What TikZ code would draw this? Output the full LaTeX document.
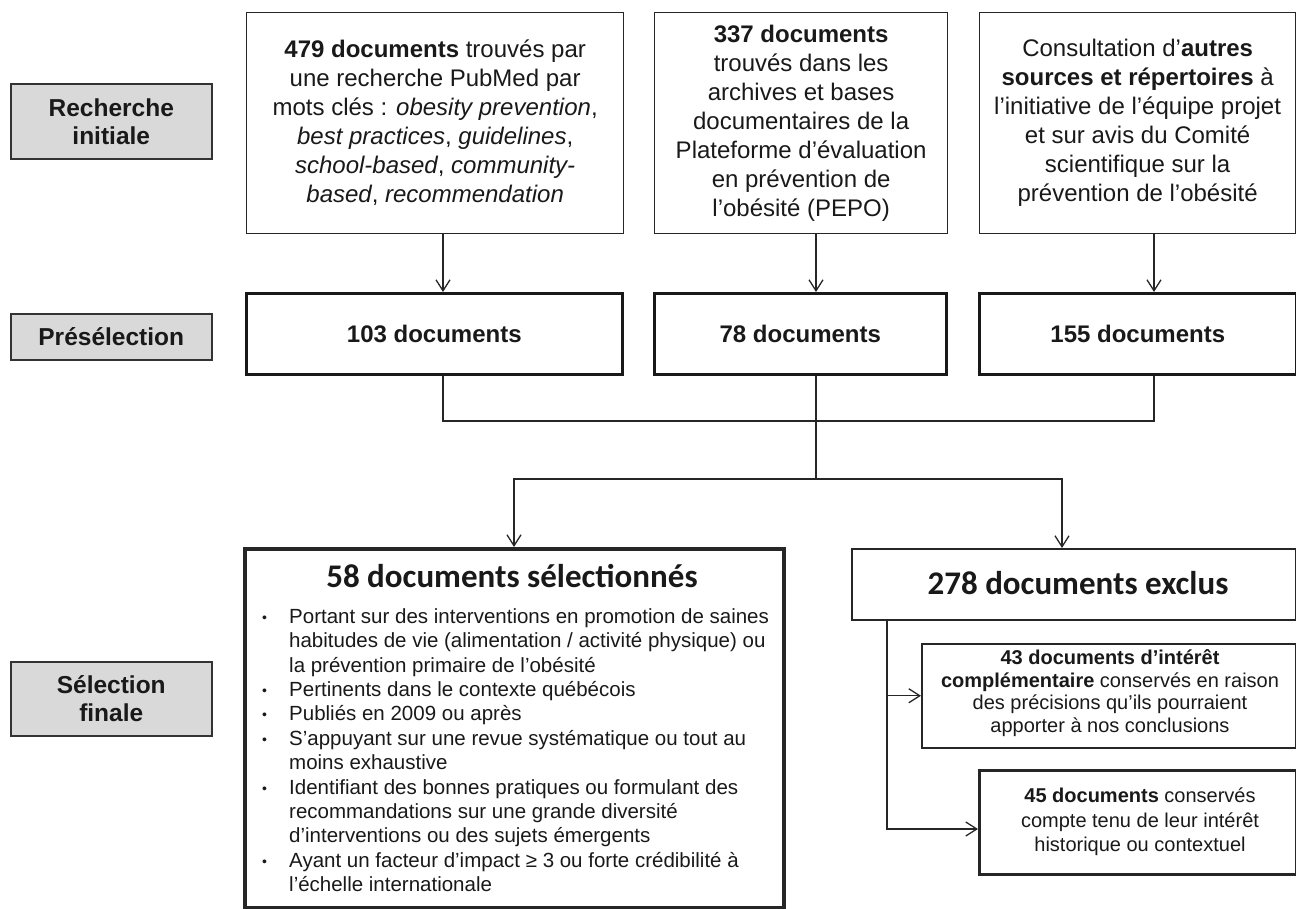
\documentclass[tikz,border=0pt]{standalone}
\usepackage{fontspec}
\setmainfont{Liberation Sans}
\newfontfamily\calfont{Carlito}
\usetikzlibrary{arrows.meta,calc}
\newcommand\smbul{\raisebox{1pt}{\fontsize{14}{14}\selectfont\textbullet}}
\begin{document}
\begin{tikzpicture}[x=1pt,y=-1pt,
  every node/.style={text=black!90},
  lbl/.style={draw=black!80,line width=1.5pt,fill=gray!30,anchor=north west,inner sep=0pt,align=center,font=\fontsize{24.5}{28}\selectfont\bfseries},
  topbox/.style={draw=black!85,line width=1.3pt,anchor=north west,inner sep=0pt,align=center,font=\fontsize{24}{29}\selectfont},
  prebox/.style={draw=black!90,line width=2.6pt,anchor=north west,inner sep=0pt,font=\fontsize{24}{29}\selectfont\bfseries},
  plainbox/.style={draw=black!85,anchor=north west,inner sep=0pt},
  bigtitle/.style={inner sep=0pt,font=\fontsize{33}{38}\selectfont\calfont\bfseries},
  smalltext/.style={inner sep=0pt,align=center},
  conn/.style={draw=black!85,line width=1.3pt},
  arr/.style={conn,-{Straight Barb[length=11pt,width=14pt,line width=1.3pt]}}
]
\useasboundingbox (0,0) rectangle (1296,908);

% stage labels
\node[lbl,minimum width=201pt,minimum height=75pt] (L1) at (10,83) {Recherche\\initiale};
\node[lbl,minimum width=201pt,minimum height=46pt] (L2) at (10,313) {Présélection};
\node[lbl,minimum width=201pt,minimum height=74pt] (L3) at (10,661) {Sélection\\finale};

% top boxes
\node[topbox,minimum width=377pt,minimum height=221pt] (T1) at (246,12)
  {\textbf{479 documents} trouvés par\\une recherche PubMed par\\mots clés : \textit{obesity prevention},\\\textit{best practices}, \textit{guidelines},\\\textit{school-based}, \textit{community-}\\\textit{based}, \textit{recommendation}};
\node[topbox,minimum width=293pt,minimum height=221pt] (T2) at (654,12)
  {\textbf{337 documents}\\trouvés dans les\\archives et bases\\documentaires de la\\Plateforme d’évaluation\\en prévention de\\l’obésité (PEPO)};
\node[topbox,minimum width=316pt,minimum height=221pt] (T3) at (979,12)
  {Consultation d’\textbf{autres}\\\textbf{sources et répertoires} à\\l’initiative de l’équipe projet\\et sur avis du Comité\\scientifique sur la\\prévention de l’obésité};

% preselection boxes
\node[prebox,minimum width=376pt,minimum height=81pt] (P1) at (245,292) {103 documents};
\node[prebox,minimum width=292pt,minimum height=81pt] (P2) at (653,292) {78 documents};
\node[prebox,minimum width=317pt,minimum height=81pt] (P3) at (978,292) {155 documents};

% final selection box
\node[plainbox,line width=4pt,minimum width=539pt,minimum height=359pt] (S) at (243,547) {};
\node[bigtitle] (Stitle) at (512,576) {58 documents sélectionnés};
\node[inner sep=0pt,anchor=north west,font=\fontsize{20.5}{24.4}\selectfont] (Slist) at (262,606)
{\begin{tabular}{@{}p{27pt}@{}l@{}}
\smbul & Portant sur des interventions en promotion de saines\\
 & habitudes de vie (alimentation / activité physique) ou\\
 & la prévention primaire de l’obésité\\
\smbul & Pertinents dans le contexte québécois\\
\smbul & Publiés en 2009 ou après\\
\smbul & S’appuyant sur une revue systématique ou tout au\\
 & moins exhaustive\\
\smbul & Identifiant des bonnes pratiques ou formulant des\\
 & recommandations sur une grande diversité\\
 & d’interventions ou des sujets émergents\\
\smbul & Ayant un facteur d’impact ≥ 3 ou forte crédibilité à\\
 & l’échelle internationale
\end{tabular}};

% excluded boxes
\node[plainbox,line width=1.5pt,minimum width=444pt,minimum height=71pt] (E) at (851,548) {};
\node[bigtitle] (Etitle) at (1078,583) {278 documents exclus};
\node[plainbox,line width=1.5pt,minimum width=374pt,minimum height=104pt] (C) at (921,643) {};
\node[smalltext,font=\fontsize{20}{22.7}\selectfont] (Ctext) at (1110,693)
  {\textbf{43 documents d’intérêt}\\\textbf{complémentaire} conservés en raison\\des précisions qu’ils pourraient\\apporter à nos conclusions};
\node[plainbox,line width=3pt,minimum width=317pt,minimum height=104pt] (H) at (978,769) {};
\node[smalltext,font=\fontsize{20}{24.5}\selectfont] (Htext) at (1140,822)
  {\textbf{45 documents} conservés\\compte tenu de leur intérêt\\historique ou contextuel};

% connector coordinates
\coordinate (a1) at (443,0);
\coordinate (a2) at (816,0);
\coordinate (a3) at (1154,0);
\coordinate (j1) at (816,421);
\coordinate (j2) at (816,479);
\coordinate (b1) at (514,0);
\coordinate (b2) at (1062,0);
\coordinate (e1) at (887,0);
\coordinate (h1) at (0,829);

\draw[arr] (T1.south -| a1) -- (P1.north -| a1);
\draw[arr] (T2.south -| a2) -- (P2.north -| a2);
\draw[arr] (T3.south -| a3) -- (P3.north -| a3);
\draw[conn] (P1.south -| a1) |- (j1) -| (P3.south -| a3);
\draw[conn] (P2.south -| a2) -- (j2);
\draw[arr] (j2) -| (S.north -| b1);
\draw[arr] (j2) -| (E.north -| b2);
\draw[arr] (E.south -| e1) |- (C.west);
\draw[arr] (E.south -| e1) |- (H.west |- h1);
\end{tikzpicture}
\end{document}
